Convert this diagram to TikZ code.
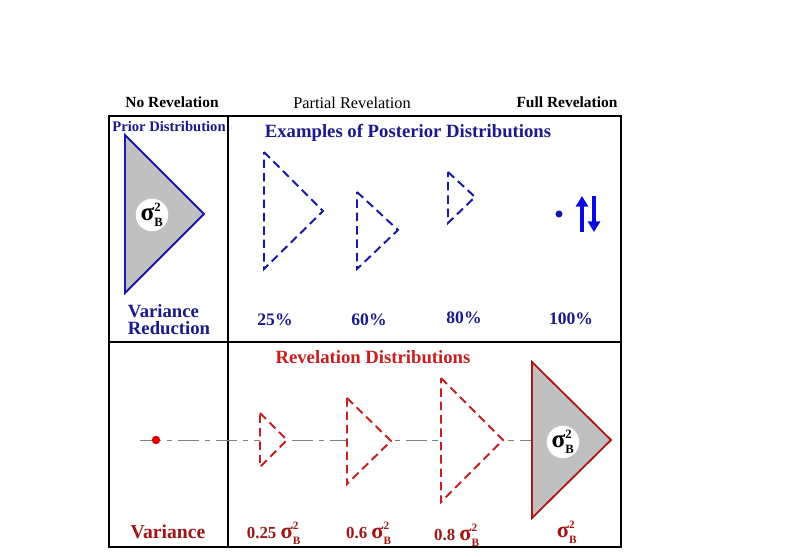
\documentclass[tikz,border=0pt]{standalone}
\usepackage{amsmath,bm}
\usepackage{fontspec}
\setmainfont{Liberation Serif}
\usetikzlibrary{arrows.meta,positioning}
\definecolor{cnavy}{HTML}{1A1A8C}
\definecolor{cblue}{HTML}{1818A8}
\definecolor{cbright}{HTML}{0A0AE0}
\definecolor{cred}{HTML}{C81E1E}
\definecolor{cdred}{HTML}{A01515}
\definecolor{cgrey}{HTML}{C0C0C0}
\newcommand{\sigB}{$\mbox{\bfseries σ}^{\scriptscriptstyle\text{\bfseries 2}}_{\scriptscriptstyle\text{\bfseries B}}$}

\begin{document}
\begin{tikzpicture}[x=0.025cm,y=-0.025cm,
  frame/.style={draw=black,line width=0.9pt},
  hdr/.style={font=\fontsize{11}{13}\selectfont\bfseries},
  title/.style={font=\fontsize{13.3}{15}\selectfont\bfseries},
  pct/.style={font=\fontsize{12.5}{14}\selectfont\bfseries,text=cnavy},
  varlab/.style={font=\fontsize{12}{14}\selectfont\bfseries,text=cdred},
  prior/.style={draw=cblue,fill=cgrey,line width=1.4pt,line join=miter},
  postri/.style={draw=cblue,fill=white,line width=1.4pt,dash pattern=on 6pt off 3.5pt},
  revtri/.style={draw=cred,fill=white,line width=1.4pt,dash pattern=on 6pt off 3.5pt},
  fulltri/.style={draw=cred!85!black,fill=cgrey,line width=1.3pt},
  sigcirc/.style={circle,fill=white,inner sep=0pt,minimum size=0.78cm,
                  font=\fontsize{18}{18}\selectfont},
  axisline/.style={draw=black!50,line width=0.7pt,dash pattern=on 15pt off 4pt on 4pt off 4pt},
  updn/.style={draw=cbright,line width=2.4pt,-{Triangle[length=7.5pt,width=8.5pt]}}]
  \useasboundingbox (0,0) rectangle (809,557);
  % frame
  \draw[frame] (109,116) rectangle (621,547);
  \draw[frame] (228,116) -- (228,547);
  \draw[frame] (109,342) -- (621,342);
  % column heads
  \node[hdr] (norev) at (172,102) {No Revelation};
  \node[font=\fontsize{11.6}{13}\selectfont] (partrev) at (352,103) {Partial Revelation};
  \node[hdr] (fullrev) at (567,102) {Full Revelation};
  \node[hdr,text=cnavy,font=\fontsize{10.4}{12}\selectfont\bfseries] (priorlab) at (169,127) {Prior Distribution};
  \node[title,text=cnavy] (postlab) at (408,133) {Examples of Posterior Distributions};
  % prior
  \draw[prior] (125,135) -- (204,214) -- (125,293) -- cycle;
  \node[sigcirc] (sigP) at (152,215) {\sigB};
  \node[title,text=cnavy,align=left] (varred) at (169,320) {Variance\\[-3pt]Reduction};
  % posteriors
  \draw[postri] (264,152) -- (323,211) -- (264,269) -- cycle;
  \draw[postri] (357,192) -- (398,230) -- (357,269) -- cycle;
  \draw[postri] (448,172) -- (475,197) -- (448,223) -- cycle;
  \node[circle,fill=cblue,inner sep=0pt,minimum size=5pt] (fulldot) at (559,214) {};
  \node[inner sep=0pt] (upbot) at (582,233) {};
  \node[inner sep=0pt] (uptop) at (582,195) {};
  \node[inner sep=0pt] (dntop) at (594,195) {};
  \node[inner sep=0pt] (dnbot) at (594,233) {};
  \draw[updn] (upbot) -- (uptop);
  \draw[updn] (dntop) -- (dnbot);
  \node[pct] (p25) at (275,320) {25\%};
  \node[pct] (p60) at (369,320) {60\%};
  \node[pct] (p80) at (464,318) {80\%};
  \node[pct] (p100) at (571,319) {100\%};
  % revelations
  \node[title,text=cred] (revlab) at (373,357) {Revelation Distributions};
  \coordinate (linestart) at (140,440);
  \coordinate (bigL) at (532,440);
  \draw[axisline] (linestart) -- (bigL);
  \node[circle,fill=red!90!black,inner sep=0pt,minimum size=6pt] (nodot) at (156,440) {};
  \draw[revtri] (260,413) -- (287,440) -- (260,467) -- cycle;
  \draw[revtri] (347,398) -- (391,441) -- (347,484) -- cycle;
  \draw[revtri] (441,378) -- (503,440) -- (441,502) -- cycle;
  \draw[fulltri] (532,362) -- (611,440) -- (532,518) -- cycle;
  \node[sigcirc] (sigF) at (563,442) {\sigB};
  \node[font=\fontsize{14}{16}\selectfont\bfseries,text=cdred] (varlab) at (168,532) {Variance};
  \node[varlab] (v25) at (274,533) {0.25 {\fontsize{16}{16}\selectfont\sigB}};
  \node[varlab] (v60) at (369,533) {0.6 {\fontsize{16}{16}\selectfont\sigB}};
  \node[varlab] (v80) at (457,535) {0.8 {\fontsize{16}{16}\selectfont\sigB}};
  \node[varlab,font=\fontsize{16}{16}\selectfont] (vfull) at (567,532) {\sigB};
\end{tikzpicture}
\end{document}
